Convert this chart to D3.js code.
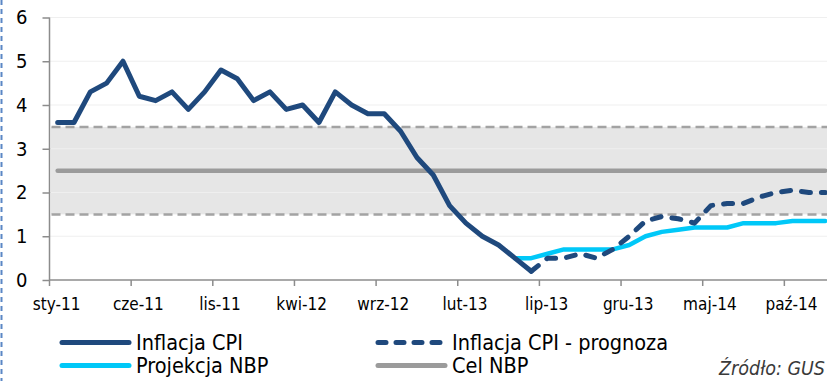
<!DOCTYPE html>
<html>
<head>
<meta charset="utf-8">
<script src="https://cdn.jsdelivr.net/npm/d3@7"></script>
<style>
  html, body { margin: 0; padding: 0; background: #fff; }
  svg { display: block; }
  text { font-family: "DejaVu Sans Condensed", "DejaVu Sans", sans-serif; }
</style>
</head>
<body>
<svg id="chart" width="827" height="381"></svg>
<script>
// Month abbreviations and years used to build the monthly categories
const monthNames = ["sty","lut","mar","kwi","maj","cze","lip","sie","wrz","paź","lis","gru"];
const years = ["11","12","13","14"];

// CPI inflation, y/y %, sty-11 .. cze-13
const cpiActual = [3.6,3.6,4.3,4.5,5.0,4.2,4.1,4.3,3.9,4.3,4.8,4.6,
                   4.1,4.3,3.9,4.0,3.6,4.3,4.0,3.8,3.8,3.4,2.8,2.4,
                   1.7,1.3,1.0,0.8,0.5,0.2];
// CPI forecast, cze-13 .. gru-14
const cpiForecast = [0.2,0.5,0.5,0.6,0.5,0.7,1.0,1.35,1.45,1.4,1.3,1.7,
                     1.75,1.75,1.9,2.0,2.05,2.0,2.0];
// NBP projection, maj-13 .. gru-14
const nbpProjection = [0.5,0.5,0.6,0.7,0.7,0.7,0.7,0.8,1.0,1.1,1.15,1.2,
                       1.2,1.2,1.3,1.3,1.3,1.35,1.35,1.35];
// NBP target and tolerance band
const nbpTarget = 2.5;
const toleranceBand = [1.5, 3.5];
const yTicks = [0,1,2,3,4,5,6];

const months = [];
years.forEach(yr => monthNames.forEach(m => months.push(m + "-" + yr)));
const forecastStart = months.indexOf("cze-13");
const projectionStart = months.indexOf("maj-13");

const svg = d3.select("#chart");
const plotLeft = 49.5, monthW = 16.33, plotTop = 17.5, plotBottom = 280;
const plotRight = 827;

const x = d3.scaleBand().domain(months)
  .range([plotLeft, plotLeft + months.length * monthW]).padding(0);
const cx = m => x(m) + x.bandwidth() / 2;
const y = d3.scaleLinear().domain([0, 6]).range([plotBottom, plotTop]);

// dashed frame edge on the left
svg.append("line").attr("x1", 1.5).attr("x2", 1.5).attr("y1", 0).attr("y2", 381)
  .attr("stroke", "#5b87c5").attr("stroke-width", 2).attr("stroke-dasharray", "5,4");

// tolerance band
svg.append("rect")
  .attr("x", plotLeft + 1.5).attr("y", y(toleranceBand[1]))
  .attr("width", plotRight - plotLeft).attr("height", y(toleranceBand[0]) - y(toleranceBand[1]))
  .attr("fill", "#e6e6e6");

// horizontal gridlines
svg.append("g").selectAll("line").data(yTicks.filter(d => d > 0)).join("line")
  .attr("x1", plotLeft).attr("x2", plotRight)
  .attr("y1", d => y(d)).attr("y2", d => y(d))
  .attr("stroke", "#efefef").attr("stroke-width", 1.2);

// band edges
svg.append("g").selectAll("line").data(toleranceBand).join("line")
  .attr("x1", plotLeft + 2).attr("x2", plotRight)
  .attr("y1", d => y(d)).attr("y2", d => y(d))
  .attr("stroke", "#a3a3a3").attr("stroke-width", 2.5).attr("stroke-dasharray", "9,5");

// y axis
const yAxis = svg.append("g").attr("transform", `translate(${plotLeft},0)`)
  .call(d3.axisLeft(y).tickValues(yTicks).tickSize(7).tickPadding(15).tickFormat(d3.format("d")));
yAxis.select(".domain").attr("stroke", "#8c8c8c").attr("stroke-width", 1.5)
  .attr("d", `M0,${plotTop}V${plotBottom}`);
yAxis.selectAll(".tick line").attr("stroke", "#8c8c8c").attr("stroke-width", 1.5);
yAxis.selectAll(".tick text").attr("font-size", 20)
  .attr("font-family", "'DejaVu Sans', sans-serif").attr("fill", "#000");

// x axis: ticks at the left edge of every fifth month, labels centred on the month
const labelled = months.filter((m, i) => i % 5 === 0);
const xAxis = svg.append("g").attr("transform", `translate(0,${plotBottom})`);
xAxis.append("line").attr("x1", plotLeft).attr("x2", plotRight).attr("y1", 0).attr("y2", 0)
  .attr("stroke", "#8c8c8c").attr("stroke-width", 1.5);
xAxis.selectAll("line.tk").data(labelled).join("line").attr("class", "tk")
  .attr("x1", d => x(d)).attr("x2", d => x(d)).attr("y1", 0).attr("y2", 6)
  .attr("stroke", "#8c8c8c").attr("stroke-width", 1.5);
xAxis.selectAll("text").data(labelled).join("text")
  .attr("x", d => cx(d) - 1).attr("y", 29.5).attr("text-anchor", "middle")
  .attr("font-size", 17).attr("fill", "#000").text(d => d);

const line = d3.line().x(d => cx(d.m)).y(d => y(d.v));

// NBP target
svg.append("path")
  .datum(months.map(m => ({ m, v: nbpTarget })))
  .attr("d", line).attr("fill", "none").attr("stroke", "#9b9b9b")
  .attr("stroke-width", 4.5).attr("stroke-linecap", "round");

// NBP projection
svg.append("path")
  .datum(nbpProjection.map((v, i) => ({ m: months[projectionStart + i], v })))
  .attr("d", line).attr("fill", "none").attr("stroke", "#00c8f8")
  .attr("stroke-width", 4.5).attr("stroke-linejoin", "round").attr("stroke-linecap", "round");

// CPI forecast
svg.append("path")
  .datum(cpiForecast.map((v, i) => ({ m: months[forecastStart + i], v })))
  .attr("d", line).attr("fill", "none").attr("stroke", "#1f497d")
  .attr("stroke-width", 5).attr("stroke-dasharray", "9,11").attr("stroke-linecap", "round")
  .attr("stroke-linejoin", "round");

// CPI actual
svg.append("path")
  .datum(cpiActual.map((v, i) => ({ m: months[i], v })))
  .attr("d", line).attr("fill", "none").attr("stroke", "#1f497d")
  .attr("stroke-width", 5).attr("stroke-linejoin", "round").attr("stroke-linecap", "round");

// legend
const legendItems = [
  { label: "Inflacja CPI", color: "#1f497d", dash: null, x: 60, y: 342.5 },
  { label: "Inflacja CPI - prognoza", color: "#1f497d", dash: "8,10", x: 376, y: 342.5 },
  { label: "Projekcja NBP", color: "#00c8f8", dash: null, x: 60, y: 365.5 },
  { label: "Cel NBP", color: "#9b9b9b", dash: null, x: 376, y: 365.5 }
];
const lg = svg.append("g").selectAll("g").data(legendItems).join("g");
lg.append("line")
  .attr("x1", d => d.x + 2).attr("x2", d => d.x + 69)
  .attr("y1", d => d.y).attr("y2", d => d.y)
  .attr("stroke", d => d.color).attr("stroke-width", 5).attr("stroke-linecap", "round")
  .attr("stroke-dasharray", d => d.dash);
lg.append("text")
  .attr("x", d => d.x + 76).attr("y", d => d.y + 7.5)
  .attr("font-size", 21.5).attr("fill", "#000").text(d => d.label);

// source note
svg.append("text").attr("x", 825).attr("y", 375).attr("text-anchor", "end")
  .attr("font-size", 19.5).attr("font-style", "italic").attr("fill", "#3a3a3a")
  .text("Źródło: GUS");
</script>
</body>
</html>
